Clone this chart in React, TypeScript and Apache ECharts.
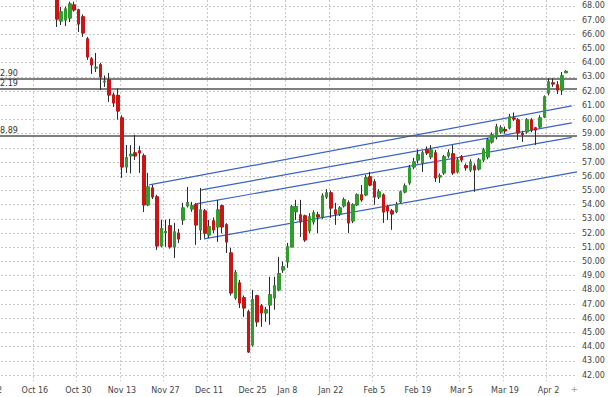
import React, { useEffect, useRef } from "react";
import * as echarts from "echarts";

// ---- calendar (trading days) ----
const START_DATE = "2018-10-01";
const HOLIDAYS = ["2018-12-25", "2019-01-01"];
const SLOT_COUNT = 136;

// ---- x tick labels ----
const tickDates = [
  "2018-10-02", "2018-10-16", "2018-10-30", "2018-11-13", "2018-11-27", "2018-12-11", "2018-12-25",
  "2019-01-08", "2019-01-22", "2019-02-05", "2019-02-19", "2019-03-05", "2019-03-19", "2019-04-02",
];
const tickLabels = [
  "Oct 2", "Oct 16", "Oct 30", "Nov 13", "Nov 27", "Dec 11", "Dec 25",
  "Jan 8", "Jan 22", "Feb 5", "Feb 19", "Mar 5", "Mar 19", "Apr 2",
];

// ---- y axis ----
const yMin = 41.58;
const yMax = 68.42;
const yTicks = [42, 43, 44, 45, 46, 47, 48, 49, 50, 51, 52, 53, 54, 55, 56, 57, 58, 59, 60, 61, 62, 63, 64, 65, 66, 67, 68];

// ---- candles [open, close, low, high], first one at trading-day index FIRST_INDEX ----
const FIRST_INDEX = 16;
const candles: number[][] = [
  [69.3, 67.08, 66.52, 69.6],
  [66.94, 67.58, 66.66, 67.93],
  [67.01, 67.79, 66.59, 67.95],
  [67.15, 68.14, 66.87, 68.3],
  [68.07, 67.72, 67.6, 68.3],
  [67.72, 66.73, 66.17, 67.8],
  [67.23, 66.1, 65.82, 67.4],
  [65.68, 64.41, 64.2, 65.82],
  [64.27, 63.85, 63.21, 64.4],
  [63.63, 63.68, 63.35, 64.69],
  [63.85, 63.0, 62.08, 63.99],
  [62.65, 62.7, 62.3, 63.1],
  [62.79, 61.73, 61.24, 63.28],
  [61.73, 61.17, 60.89, 61.9],
  [61.7, 60.6, 60.0, 62.2],
  [60.11, 56.66, 55.89, 60.3],
  [56.66, 57.3, 56.24, 58.21],
  [57.45, 57.55, 56.2, 58.2],
  [57.65, 57.44, 57.15, 58.92],
  [57.79, 57.65, 56.24, 58.14],
  [57.44, 53.99, 53.49, 57.6],
  [53.99, 55.25, 53.9, 56.24],
  [55.18, 54.55, 54.4, 55.4],
  [54.55, 51.1, 50.82, 54.7],
  [51.1, 52.3, 51.0, 52.93],
  [52.05, 52.1, 51.03, 52.93],
  [52.51, 51.03, 50.9, 53.0],
  [51.03, 52.08, 50.25, 52.72],
  [52.0, 51.59, 51.3, 52.3],
  [52.93, 53.77, 52.58, 54.13],
  [53.92, 54.13, 53.8, 55.25],
  [53.7, 53.92, 53.5, 54.2],
  [53.99, 52.58, 51.17, 54.13],
  [52.23, 53.63, 51.52, 55.18],
  [53.56, 52.0, 51.66, 53.7],
  [51.87, 52.44, 51.66, 52.93],
  [52.86, 52.23, 52.0, 53.1],
  [52.44, 53.63, 51.38, 54.34],
  [53.92, 52.44, 52.0, 54.0],
  [52.58, 51.38, 50.6, 52.7],
  [50.6, 47.79, 47.6, 50.96],
  [47.44, 49.2, 47.3, 49.4],
  [48.49, 47.08, 46.73, 48.7],
  [47.44, 46.73, 46.1, 47.6],
  [46.45, 43.63, 43.56, 46.6],
  [44.13, 47.3, 44.0, 48.0],
  [47.58, 45.75, 45.4, 47.65],
  [46.87, 46.38, 45.4, 47.0],
  [46.38, 46.59, 45.75, 46.8],
  [46.94, 47.65, 45.54, 48.92],
  [47.44, 48.28, 46.6, 48.92],
  [48.0, 49.13, 47.9, 50.32],
  [49.41, 49.62, 49.2, 50.0],
  [49.97, 51.03, 49.55, 51.31],
  [51.03, 53.85, 51.0, 53.99],
  [53.51, 53.85, 52.93, 54.34],
  [53.28, 52.79, 51.73, 54.34],
  [53.21, 51.52, 51.38, 53.3],
  [52.16, 53.14, 52.0, 53.4],
  [52.79, 53.42, 52.6, 53.6],
  [53.28, 53.14, 52.0, 53.5],
  [53.14, 54.62, 53.0, 54.8],
  [54.55, 54.83, 54.4, 55.1],
  [54.83, 53.77, 53.07, 55.0],
  [53.63, 53.35, 52.58, 54.13],
  [53.35, 53.77, 53.2, 53.9],
  [53.92, 54.34, 53.8, 54.5],
  [54.13, 52.72, 52.0, 54.3],
  [52.86, 53.99, 52.7, 54.1],
  [53.99, 54.69, 53.9, 54.8],
  [54.69, 54.34, 54.2, 55.39],
  [54.69, 55.89, 54.6, 56.1],
  [55.96, 55.39, 55.3, 56.31],
  [55.61, 54.55, 53.99, 55.8],
  [54.55, 54.9, 54.4, 55.1],
  [54.69, 53.49, 52.72, 54.8],
  [53.85, 53.56, 52.93, 54.0],
  [53.56, 53.35, 52.23, 53.7],
  [53.51, 54.0, 53.4, 54.2],
  [54.2, 54.9, 54.1, 55.0],
  [54.9, 55.32, 54.8, 55.5],
  [55.54, 56.59, 55.4, 56.8],
  [56.66, 57.01, 56.5, 57.3],
  [57.15, 57.51, 56.9, 57.9],
  [56.94, 57.65, 56.3, 57.8],
  [57.86, 57.65, 57.5, 58.1],
  [57.37, 57.86, 57.2, 58.2],
  [57.65, 55.89, 55.6, 57.86],
  [55.96, 56.03, 55.54, 56.2],
  [56.24, 57.37, 56.1, 57.5],
  [57.44, 57.65, 57.3, 57.9],
  [57.58, 56.24, 56.1, 58.2],
  [56.31, 57.15, 56.2, 57.3],
  [57.37, 57.15, 57.0, 57.5],
  [56.75, 56.6, 56.4, 56.9],
  [56.45, 57.01, 56.3, 57.2],
  [56.73, 56.45, 54.9, 56.9],
  [56.52, 57.15, 56.4, 57.3],
  [57.15, 57.86, 57.0, 58.0],
  [57.37, 58.56, 57.2, 58.7],
  [58.42, 58.92, 58.3, 59.1],
  [58.78, 59.48, 58.6, 59.7],
  [59.13, 59.41, 59.0, 59.6],
  [59.3, 59.2, 59.0, 59.5],
  [59.41, 60.18, 59.3, 60.4],
  [60.1, 60.04, 59.9, 60.5],
  [59.97, 59.06, 58.56, 60.1],
  [59.0, 58.95, 58.42, 59.2],
  [59.13, 59.97, 59.0, 60.1],
  [59.97, 59.27, 59.1, 60.1],
  [59.41, 59.27, 58.21, 59.48],
  [59.48, 60.11, 59.4, 60.3],
  [60.18, 61.59, 60.1, 61.7],
  [61.87, 62.65, 61.7, 62.9],
  [62.58, 62.51, 62.3, 62.9],
  [62.44, 62.08, 61.8, 62.7],
  [62.08, 63.07, 61.73, 63.35],
  [63.3, 63.39, 63.3, 63.48],
];

// ---- horizontal levels & last price ----
const levels = [62.9, 62.19, 58.89];
const lastPrice = 63.39;

// ---- channel lines: [[startIndex, startPrice], [endIndex, endPrice]] ----
const channelA = [[37.2, 55.39], [134.3, 60.96]];
const channelB = [[49.2, 55.04], [134.3, 59.76]];
const channelC = [[48.0, 54.06], [134.3, 58.74]];
const channelD = [[49.8, 51.59], [135.5, 56.31]];

const FONT = "DejaVu Sans";
const UP = "#2f9e2f";
const DOWN = "#cc1414";
const WICK = "#2a2a2a";
const BLUE = "#3b63c4";

function tradingDays(): string[] {
  const out: string[] = [];
  const d = new Date(START_DATE + "T00:00:00Z");
  while (out.length < SLOT_COUNT) {
    const wd = d.getUTCDay();
    const s = d.toISOString().slice(0, 10);
    if (wd !== 0 && wd !== 6 && !HOLIDAYS.includes(s)) out.push(s);
    d.setUTCDate(d.getUTCDate() + 1);
  }
  return out;
}

export default function App() {
  const ref = useRef<HTMLDivElement>(null);
  useEffect(() => {
    if (!ref.current) return;
    const chart = echarts.init(ref.current, undefined, { renderer: "svg" });
    const days = tradingDays();
    const tickPos = tickDates.map((t) => {
      const i = days.findIndex((d) => d >= t);
      return i - 0.5;
    });
    const wickData = candles.map((c, k) => [FIRST_INDEX + k, c[0], c[1], c[2], c[3]]);
    const bodyData = candles.map((c, k) => [
      FIRST_INDEX + k, c[0], c[1], Math.min(c[0], c[1]), Math.max(c[0], c[1]),
    ]);
    const lineSeries = (name: string, d: number[][]) => ({
      name,
      type: "line",
      xAxisIndex: 1,
      yAxisIndex: 0,
      data: d,
      symbol: "none",
      silent: true,
      lineStyle: { color: BLUE, width: 1.2 },
      z: 4,
    });

    chart.setOption({
      animation: false,
      backgroundColor: "#ffffff",
      textStyle: { fontFamily: FONT },
      grid: { left: -15, right: 31, top: 0, bottom: 16, containLabel: false, outerBoundsMode: "none" },
      xAxis: [
        { type: "category", data: days, boundaryGap: true, show: false },
        {
          type: "value",
          min: -0.5,
          max: SLOT_COUNT - 0.5,
          position: "bottom",
          axisLine: { show: false },
          axisTick: { show: false, customValues: tickPos },
          axisLabel: {
            customValues: tickPos,
            formatter: (v: number) => {
              const k = tickPos.findIndex((p) => Math.abs(p - v) < 0.01);
              return k >= 0 ? tickLabels[k] : "";
            },
            fontSize: 8,
            color: "#444",
            margin: 5,
            padding: [0, 0, 0, 4],
            fontFamily: FONT,
            hideOverlap: false,
          },
          splitLine: { show: true, lineStyle: { color: "#c8c8c8", type: [2, 2], width: 1 } },
        },
      ],
      yAxis: {
        type: "value",
        position: "right",
        min: yMin,
        max: yMax,
        axisLine: { show: true, lineStyle: { color: "#a0a0a0", width: 1 } },
        axisTick: { show: true, length: 3, customValues: yTicks, lineStyle: { color: "#888" } },
        axisLabel: {
          customValues: yTicks,
          formatter: (v: number) => v.toFixed(2),
          fontSize: 8,
          color: "#444",
          margin: 5,
          fontFamily: FONT,
        },
        splitLine: { show: true, lineStyle: { color: "#c8c8c8", type: [2, 2], width: 1 } },
      },
      series: [
        {
          name: "wick",
          type: "candlestick",
          xAxisIndex: 0,
          yAxisIndex: 0,
          data: wickData,
          encode: { x: 0, y: [1, 2, 3, 4] },
          barWidth: 3,
          silent: true,
          itemStyle: { color: WICK, color0: WICK, borderColor: WICK, borderColor0: WICK, borderWidth: 1 },
          z: 5,
        },
        {
          name: "body",
          type: "candlestick",
          xAxisIndex: 0,
          yAxisIndex: 0,
          data: bodyData,
          encode: { x: 0, y: [1, 2, 3, 4] },
          barWidth: 3,
          silent: true,
          itemStyle: { color: UP, color0: DOWN, borderColor: UP, borderColor0: DOWN, borderWidth: 1 },
          z: 6,
          markLine: {
            silent: true,
            symbol: ["none", "none"],
            animation: false,
            data: [
              ...levels.map((v) => ({
                yAxis: v,
                lineStyle: { color: "#555", width: 1.6, type: "solid" },
                label: {
                  show: true,
                  position: "insideStartTop",
                  distance: [10, 1],
                  formatter: (p: any) => Number(p.value).toFixed(2),
                  fontSize: 8,
                  color: "#333",
                  fontFamily: FONT,
                },
              })),
              {
                yAxis: lastPrice,
                lineStyle: { opacity: 0, width: 0 },
                label: {
                  show: true,
                  position: "end",
                  distance: 4,
                  formatter: (p: any) => Number(p.value).toFixed(2),
                  fontSize: 8,
                  color: "#333",
                  fontFamily: FONT,
                  backgroundColor: "#e6e24e",
                  padding: [2, 1, 1, 1],
                },
              },
            ],
          },
        },
        lineSeries("channelA", channelA),
        lineSeries("channelB", channelB),
        lineSeries("channelC", channelC),
        lineSeries("channelD", channelD),
      ],
      graphic: [
        { type: "text", right: 30, bottom: 4, style: { text: "+", fill: "#999", fontSize: 9, fontFamily: FONT } },
      ],
    });
    return () => chart.dispose();
  }, []);
  return <div ref={ref} style={{ width: 608, height: 397, position: "absolute", left: 0, top: 0 }} />;
}
